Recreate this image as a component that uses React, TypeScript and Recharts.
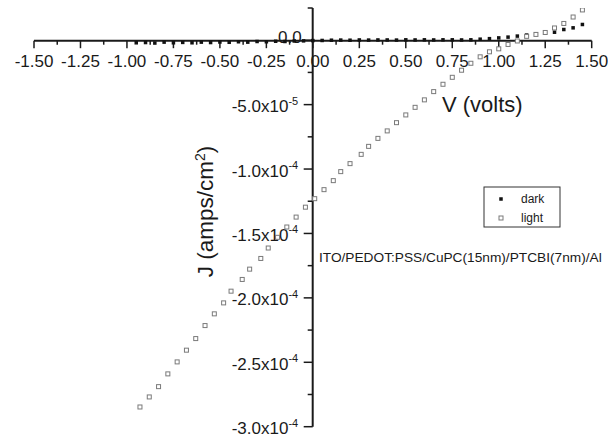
import { Scatter, ScatterChart, XAxis, YAxis } from "recharts";

// J-V data (V in volts, J in amps/cm^2)
const lightV = [
  -0.93, -0.88, -0.83, -0.78, -0.73, -0.68, -0.63, -0.58, -0.53, -0.48, -0.44, -0.38, -0.34, -0.28, -0.24, -0.19,
  -0.14, -0.09, -0.04, 0.01, 0.06, 0.11, 0.15, 0.2, 0.26, 0.3, 0.35, 0.4, 0.45, 0.5, 0.55, 0.6, 0.65, 0.7, 0.75,
  0.8, 0.85, 0.9, 0.95, 1.0, 1.05, 1.1, 1.15, 1.2, 1.25, 1.3, 1.35, 1.4, 1.45,
];
const lightJ = [
  -28.47e-5, -27.69e-5, -26.89e-5, -25.9e-5, -24.97e-5, -24.06e-5, -23.16e-5, -22.15e-5, -21.24e-5, -20.39e-5,
  -19.48e-5, -18.57e-5, -17.77e-5, -16.94e-5, -16.13e-5, -15.3e-5, -14.5e-5, -13.73e-5, -12.96e-5, -12.3e-5,
  -11.6e-5, -10.9e-5, -10.2e-5, -9.58e-5, -8.86e-5, -8.24e-5, -7.62e-5, -7.04e-5, -6.4e-5, -5.8e-5, -5.21e-5,
  -4.63e-5, -3.99e-5, -3.42e-5, -2.88e-5, -2.33e-5, -1.79e-5, -1.29e-5, -0.9e-5, -0.67e-5, -0.33e-5, -0.06e-5,
  0.3e-5, 0.45e-5, 0.6e-5, 0.95e-5, 1.3e-5, 1.8e-5, 2.35e-5,
];

const darkV = [
  -0.95, -0.9, -0.85, -0.8, -0.75, -0.7, -0.65, -0.6, -0.55, -0.5, -0.45, -0.4, -0.35, -0.3, -0.25, -0.2, -0.15,
  -0.1, -0.05, 0.0, 0.05, 0.1, 0.15, 0.2, 0.25, 0.3, 0.35, 0.4, 0.45, 0.5, 0.55, 0.6, 0.65, 0.7, 0.75, 0.8, 0.85,
  0.9, 0.95, 1.0, 1.05, 1.1, 1.15, 1.2, 1.25, 1.3, 1.35, 1.4, 1.45,
];
const darkJ = [
  -0.2e-5, -0.18e-5, -0.22e-5, -0.15e-5, -0.2e-5, -0.17e-5, -0.2e-5, -0.15e-5, -0.18e-5, -0.14e-5, -0.16e-5,
  -0.12e-5, -0.15e-5, -0.1e-5, -0.12e-5, -0.08e-5, -0.1e-5, -0.06e-5, -0.05e-5, -0.03e-5, -0.02e-5, 0.0, 0.01e-5,
  0.0, 0.02e-5, 0.01e-5, 0.02e-5, 0.02e-5, 0.01e-5, 0.03e-5, 0.02e-5, 0.03e-5, 0.02e-5, 0.03e-5, 0.03e-5, 0.02e-5,
  0.03e-5, 0.08e-5, 0.12e-5, 0.18e-5, 0.24e-5, 0.32e-5, 0.4e-5, 0.48e-5, 0.56e-5, 0.62e-5, 0.83e-5, 0.96e-5,
  1.22e-5,
];

const xTicks = [
  -1.5, -1.375, -1.25, -1.125, -1.0, -0.875, -0.75, -0.625, -0.5, -0.375, -0.25, -0.125, 0, 0.125, 0.25, 0.375,
  0.5, 0.625, 0.75, 0.875, 1.0, 1.125, 1.25, 1.375, 1.5,
];
const yTicks = [
  -3e-4, -2.75e-4, -2.5e-4, -2.25e-4, -2e-4, -1.75e-4, -1.5e-4, -1.25e-4, -1e-4, -7.5e-5, -5e-5, -2.5e-5, 0, 2.5e-5,
];

const lightData = lightV.map((v, i) => ({ v, j: lightJ[i] }));
const darkData = darkV.map((v, i) => ({ v, j: darkJ[i] }));

const W = 608;
const H = 438;
const X_DOMAIN: [number, number] = [-1.5, 1.5];
const Y_DOMAIN: [number, number] = [-3e-4, 2.5e-5];
const LEFT = 34;
const RIGHT = 591.7;
const TOP = 8;
const BOTTOM = 426.7;
const ORIGIN_X = 312.7;
const ORIGIN_Y = 40.7;
const FONT = "'Liberation Sans', Arial, sans-serif";
const INK = "#1a1a1a";

const isMajor = (v: number, step: number) => {
  const r = v / step;
  return Math.abs(r - Math.round(r)) < 1e-6;
};

function XTick({ x, y, payload }: any) {
  const v = payload.value as number;
  const major = isMajor(v, 0.25);
  return (
    <g>
      <line x1={x} x2={x} y1={y} y2={y + (major ? 7.5 : 4)} stroke={INK} strokeWidth={1.5} />
      {major && (
        <text x={x} y={y + 26.5} textAnchor="middle" fontSize={17} fontFamily={FONT} fill={INK}>
          {v.toFixed(2)}
        </text>
      )}
    </g>
  );
}

function YTick({ x, y, payload }: any) {
  const v = payload.value as number;
  const major = isMajor(v, 5e-5);
  let label = null;
  if (major && Math.abs(v) < 1e-12) {
    label = (
      <text x={x - 11} y={y + 2.6} textAnchor="end" fontSize={17} fontFamily={FONT} fill={INK}>
        0.0
      </text>
    );
  } else if (major) {
    const exp = Math.floor(Math.log10(Math.abs(v)) + 1e-9);
    const mant = (v / Math.pow(10, exp)).toFixed(1);
    label = (
      <text x={x - 14.5} y={y + 7.5} textAnchor="end" fontSize={17} fontFamily={FONT} fill={INK}>
        {mant}x10
        <tspan dy={-7.5} fontSize={11}>
          {exp}
        </tspan>
      </text>
    );
  }
  return (
    <g>
      <line x1={x - (major ? 9 : 5)} x2={x} y1={y} y2={y} stroke={INK} strokeWidth={1.5} />
      {label}
    </g>
  );
}

const layer = { position: "absolute" as const, left: 0, top: 0 };

function LightMark({ cx, cy }: any) {
  return <rect x={cx - 2} y={cy - 2} width={4} height={4} fill="#fff" stroke="#7a7a7a" strokeWidth={1} />;
}

function DarkMark({ cx, cy }: any) {
  return <rect x={cx - 1.75} y={cy - 1.75} width={3.5} height={3.5} fill="#111" />;
}

export default function App() {
  return (
    <div style={{ position: "absolute", left: 0, top: 0, width: W, height: H, background: "#fff" }}>
      {/* horizontal axis, crossing at J = 0 */}
      <div style={layer}>
        <ScatterChart width={W} height={100} margin={{ top: 0, right: W - RIGHT, bottom: 0, left: LEFT }}>
          <XAxis
            type="number"
            dataKey="v"
            domain={X_DOMAIN}
            allowDataOverflow
            ticks={xTicks}
            interval={0}
            height={100 - ORIGIN_Y}
            tickSize={0}
            tickMargin={0}
            tickLine={false}
            tick={<XTick />}
            axisLine={{ stroke: INK, strokeWidth: 2 }}
          />
          <YAxis type="number" dataKey="j" domain={[0, 1]} hide width={0} />
        </ScatterChart>
      </div>

      {/* vertical axis, crossing at V = 0 */}
      <div style={layer}>
        <ScatterChart
          width={W}
          height={H}
          margin={{ top: TOP, right: 0, bottom: H - BOTTOM, left: ORIGIN_X - 300 }}
        >
          <XAxis type="number" dataKey="v" domain={[0, 1]} hide height={0} />
          <YAxis
            type="number"
            dataKey="j"
            domain={Y_DOMAIN}
            allowDataOverflow
            ticks={yTicks}
            interval={0}
            width={300}
            tickSize={0}
            tickMargin={0}
            tickLine={false}
            tick={<YTick />}
            axisLine={{ stroke: INK, strokeWidth: 2 }}
          />
        </ScatterChart>
      </div>

      {/* data */}
      <div style={layer}>
        <ScatterChart width={W} height={H} margin={{ top: TOP, right: W - RIGHT, bottom: H - BOTTOM, left: LEFT }}>
          <XAxis type="number" dataKey="v" domain={X_DOMAIN} allowDataOverflow hide height={0} />
          <YAxis type="number" dataKey="j" domain={Y_DOMAIN} allowDataOverflow hide width={0} />
          <Scatter name="dark" data={darkData} shape={<DarkMark />} isAnimationActive={false} />
          <Scatter name="light" data={lightData} shape={<LightMark />} isAnimationActive={false} />
        </ScatterChart>
      </div>

      {/* titles, legend and device note */}
      <svg width={W} height={H} style={{ ...layer, pointerEvents: "none" }}>
        <text x={442} y={112} fontSize={22} fontFamily={FONT} fill={INK}>
          V (volts)
        </text>
        <text
          x={213}
          y={211.5}
          transform="rotate(-90 213 211.5)"
          textAnchor="middle"
          fontSize={22.5}
          fontFamily={FONT}
          fill={INK}
        >
          J (amps/cm
          <tspan dy={-8} fontSize={14}>
            2
          </tspan>
          <tspan dy={8}>)</tspan>
        </text>
        <text x={319} y={262} fontSize={13.7} fontFamily={FONT} fill={INK}>
          ITO/PEDOT:PSS/CuPC(15nm)/PTCBI(7nm)/Al
        </text>
        <rect x={484} y={187} width={76} height={40} fill="none" stroke="#333" strokeWidth={1} />
        <rect x={499.25} y={197.25} width={3.5} height={3.5} fill="#111" />
        <text x={521} y={203} fontSize={12} fontFamily={FONT} fill={INK}>
          dark
        </text>
        <rect x={499} y={216} width={4} height={4} fill="#fff" stroke="#7a7a7a" strokeWidth={1} />
        <text x={521} y={222} fontSize={12} fontFamily={FONT} fill={INK}>
          light
        </text>
      </svg>
    </div>
  );
}
